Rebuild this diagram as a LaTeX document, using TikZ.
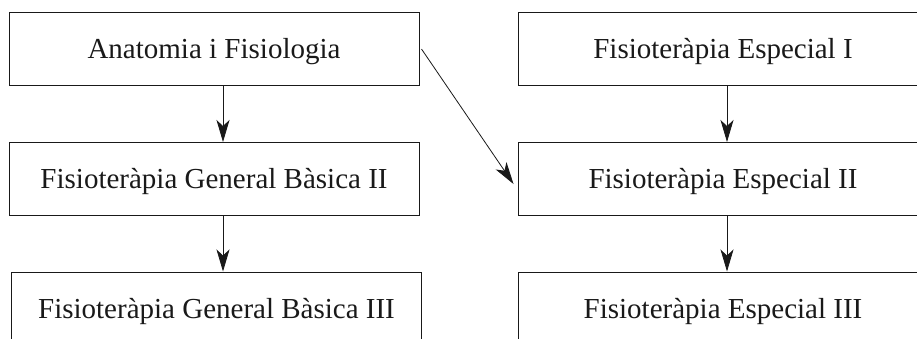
\documentclass[tikz,border=0pt]{standalone}
\usepackage{fontspec}
\setmainfont{Liberation Serif}
\usetikzlibrary{arrows.meta}
\begin{document}
\begin{tikzpicture}[x=1pt,y=-1pt,
  box/.style={draw=black!90, line width=1pt, minimum width=410pt, minimum height=73pt,
    inner sep=0pt, text height=19.2pt, text depth=0pt, font=\fontsize{29}{32}\selectfont, text=black!90},
  arr/.style={-{Stealth[length=22pt,width=13pt,inset=6pt]}, line width=0.8pt, draw=black!90}]
\useasboundingbox (0,0) rectangle (917,338);
\begin{scope}
\clip (0,0) rectangle (917,338);
\node[box] (a1) at (214,49) {Anatomia i Fisiologia};
\node[box] (a2) at (214,179) {Fisioteràpia General Bàsica II};
\node[box] (a3) at (216.5,308.5) {Fisioteràpia General Bàsica III};
\node[box] (b1) at (723,49) {Fisioteràpia Especial I};
\node[box] (b2) at (723,179) {Fisioteràpia Especial II};
\node[box] (b3) at (723,308.5) {Fisioteràpia Especial III};
\end{scope}
\draw[arr] ([xshift=9pt]a1.south) -- ([xshift=9pt]a1.south |- a2.north);
\draw[arr] ([xshift=9pt]a2.south) -- ([xshift=9pt]a2.south |- a3.north);
\draw[arr] ([xshift=4pt]b1.south) -- ([xshift=4pt]b1.south |- b2.north);
\draw[arr] ([xshift=4pt]b2.south) -- ([xshift=4pt]b2.south |- b3.north);
\draw[arr] ([xshift=2pt]a1.east) -- ([xshift=-4pt,yshift=-5pt]b2.west);
\end{tikzpicture}
\end{document}
